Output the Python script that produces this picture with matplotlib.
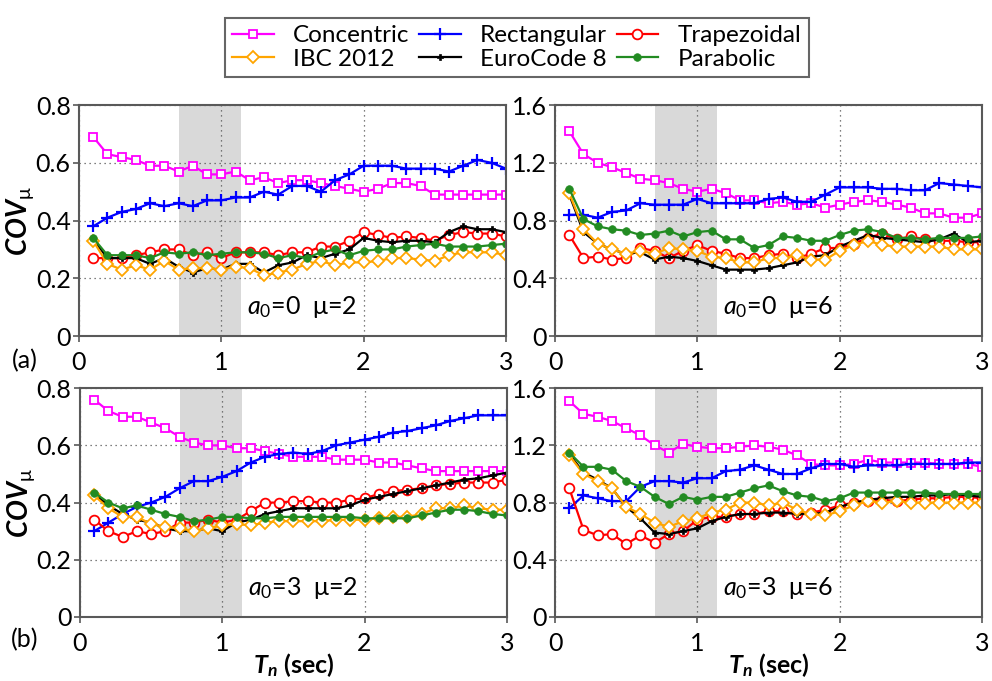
import matplotlib
matplotlib.use("Agg")
import matplotlib.pyplot as plt
import numpy as np

plt.rcParams['font.family'] = ['Lato', 'DejaVu Sans']
plt.rcParams['mathtext.fontset'] = 'custom'
plt.rcParams['mathtext.rm'] = 'Lato'
plt.rcParams['mathtext.it'] = 'Lato:italic'
plt.rcParams['mathtext.bf'] = 'Lato:bold'
plt.rcParams['mathtext.bfit'] = 'Lato:bold:italic'

# periods (sec)
Tn = [round(0.1 * i, 1) for i in range(1, 31)]

# (a) a0=0, mu=2
conc_a = [0.69, 0.63, 0.62, 0.61, 0.59, 0.59, 0.57, 0.59, 0.56, 0.56, 0.57, 0.54, 0.55, 0.53, 0.54,
          0.54, 0.53, 0.52, 0.51, 0.50, 0.51, 0.53, 0.53, 0.52, 0.49, 0.49, 0.49, 0.49, 0.49, 0.49]
rect_a = [0.38, 0.41, 0.43, 0.44, 0.46, 0.45, 0.46, 0.45, 0.47, 0.47, 0.48, 0.48, 0.50, 0.49, 0.52,
          0.52, 0.50, 0.54, 0.56, 0.59, 0.59, 0.59, 0.58, 0.58, 0.58, 0.57, 0.59, 0.61, 0.60, 0.58]
trap_a = [0.27, 0.27, 0.27, 0.28, 0.29, 0.30, 0.30, 0.28, 0.29, 0.27, 0.29, 0.29, 0.29, 0.28, 0.29,
          0.29, 0.31, 0.31, 0.33, 0.36, 0.35, 0.34, 0.345, 0.34, 0.33, 0.35, 0.36, 0.355, 0.355, 0.345]
para_a = [0.34, 0.28, 0.28, 0.28, 0.27, 0.29, 0.285, 0.29, 0.28, 0.285, 0.29, 0.29, 0.285, 0.27, 0.28,
          0.27, 0.29, 0.30, 0.28, 0.295, 0.30, 0.30, 0.31, 0.315, 0.32, 0.31, 0.31, 0.31, 0.315, 0.32]
ibc_a = [0.33, 0.25, 0.23, 0.245, 0.23, 0.26, 0.23, 0.235, 0.235, 0.23, 0.24, 0.235, 0.21, 0.22, 0.23,
         0.25, 0.26, 0.245, 0.255, 0.255, 0.26, 0.27, 0.27, 0.265, 0.26, 0.28, 0.29, 0.29, 0.29, 0.28]
euro_a = [0.335, 0.27, 0.27, 0.27, 0.25, 0.27, 0.24, 0.22, 0.235, 0.23, 0.25, 0.25, 0.22, 0.245, 0.255,
          0.28, 0.27, 0.285, 0.30, 0.34, 0.33, 0.325, 0.33, 0.33, 0.325, 0.36, 0.38, 0.37, 0.37, 0.36]

# a0=0, mu=6
conc_b = [1.42, 1.26, 1.20, 1.17, 1.13, 1.09, 1.08, 1.06, 1.02, 1.00, 1.02, 0.99, 0.94, 0.94, 0.92,
          0.93, 0.91, 0.92, 0.89, 0.91, 0.93, 0.94, 0.93, 0.91, 0.89, 0.85, 0.85, 0.82, 0.82, 0.85]
rect_b = [0.84, 0.84, 0.82, 0.86, 0.87, 0.92, 0.91, 0.91, 0.91, 0.95, 0.92, 0.92, 0.92, 0.92, 0.95,
          0.96, 0.93, 0.93, 0.98, 1.03, 1.03, 1.03, 1.02, 1.02, 1.01, 1.01, 1.06, 1.05, 1.04, 1.03]
trap_b = [0.70, 0.54, 0.55, 0.53, 0.54, 0.61, 0.59, 0.54, 0.59, 0.63, 0.59, 0.57, 0.54, 0.54, 0.56,
          0.57, 0.54, 0.57, 0.61, 0.61, 0.64, 0.68, 0.71, 0.67, 0.69, 0.67, 0.66, 0.66, 0.65, 0.65]
para_b = [1.02, 0.81, 0.76, 0.74, 0.73, 0.70, 0.71, 0.73, 0.69, 0.72, 0.73, 0.67, 0.67, 0.61, 0.63,
          0.69, 0.68, 0.66, 0.66, 0.70, 0.73, 0.74, 0.72, 0.68, 0.68, 0.67, 0.68, 0.68, 0.68, 0.69]
ibc_b = [0.99, 0.74, 0.64, 0.60, 0.57, 0.59, 0.57, 0.61, 0.60, 0.59, 0.55, 0.54, 0.51, 0.51, 0.54,
         0.54, 0.56, 0.53, 0.53, 0.59, 0.63, 0.66, 0.63, 0.62, 0.62, 0.62, 0.62, 0.60, 0.60, 0.60]
euro_b = [0.98, 0.72, 0.64, 0.60, 0.57, 0.58, 0.53, 0.55, 0.54, 0.52, 0.49, 0.46, 0.46, 0.46, 0.47,
          0.49, 0.51, 0.55, 0.56, 0.62, 0.66, 0.70, 0.68, 0.67, 0.66, 0.65, 0.67, 0.71, 0.65, 0.66]

# (b) a0=3, mu=2
conc_c = [0.76, 0.72, 0.70, 0.70, 0.68, 0.66, 0.63, 0.61, 0.60, 0.60, 0.59, 0.59, 0.58, 0.57, 0.56,
          0.56, 0.56, 0.55, 0.55, 0.55, 0.54, 0.54, 0.53, 0.52, 0.51, 0.51, 0.51, 0.51, 0.51, 0.51]
rect_c = [0.30, 0.33, 0.36, 0.385, 0.40, 0.42, 0.45, 0.475, 0.475, 0.49, 0.51, 0.54, 0.56, 0.57, 0.575,
          0.57, 0.58, 0.60, 0.61, 0.62, 0.63, 0.645, 0.65, 0.66, 0.67, 0.685, 0.695, 0.705, 0.705, 0.705]
trap_c = [0.34, 0.30, 0.28, 0.30, 0.29, 0.30, 0.33, 0.33, 0.34, 0.33, 0.34, 0.37, 0.40, 0.40, 0.405,
          0.405, 0.40, 0.40, 0.41, 0.415, 0.43, 0.44, 0.445, 0.45, 0.46, 0.465, 0.47, 0.47, 0.47, 0.48]
para_c = [0.435, 0.40, 0.38, 0.39, 0.375, 0.36, 0.35, 0.335, 0.34, 0.35, 0.35, 0.345, 0.345, 0.35, 0.35,
          0.35, 0.35, 0.35, 0.35, 0.345, 0.345, 0.345, 0.345, 0.355, 0.365, 0.375, 0.375, 0.37, 0.36, 0.355]
ibc_c = [0.425, 0.38, 0.35, 0.35, 0.325, 0.315, 0.31, 0.30, 0.31, 0.32, 0.325, 0.32, 0.33, 0.335, 0.335,
         0.335, 0.335, 0.34, 0.34, 0.34, 0.345, 0.35, 0.35, 0.36, 0.38, 0.38, 0.39, 0.38, 0.375, 0.375]
euro_c = [0.43, 0.39, 0.36, 0.34, 0.33, 0.31, 0.30, 0.30, 0.31, 0.30, 0.33, 0.34, 0.36, 0.37, 0.38,
          0.38, 0.38, 0.38, 0.39, 0.41, 0.42, 0.43, 0.44, 0.45, 0.46, 0.47, 0.48, 0.485, 0.495, 0.505]

# a0=3, mu=6
conc_d = [1.51, 1.42, 1.40, 1.37, 1.32, 1.27, 1.20, 1.15, 1.21, 1.19, 1.18, 1.18, 1.19, 1.20, 1.19,
          1.17, 1.13, 1.07, 1.06, 1.06, 1.07, 1.10, 1.08, 1.08, 1.08, 1.08, 1.07, 1.07, 1.07, 1.05]
rect_d = [0.76, 0.85, 0.83, 0.81, 0.81, 0.91, 0.95, 0.95, 0.94, 0.97, 0.97, 1.02, 1.03, 1.06, 1.03,
          1.00, 1.00, 1.04, 1.07, 1.07, 1.05, 1.06, 1.06, 1.06, 1.07, 1.07, 1.07, 1.07, 1.08, 1.08]
trap_d = [0.90, 0.61, 0.57, 0.58, 0.51, 0.57, 0.52, 0.58, 0.60, 0.68, 0.70, 0.70, 0.72, 0.72, 0.74,
          0.74, 0.72, 0.73, 0.75, 0.78, 0.80, 0.81, 0.82, 0.81, 0.82, 0.83, 0.83, 0.84, 0.84, 0.83]
para_d = [1.15, 1.05, 1.05, 1.03, 0.95, 0.91, 0.84, 0.79, 0.84, 0.82, 0.84, 0.84, 0.87, 0.90, 0.92,
          0.88, 0.85, 0.84, 0.81, 0.83, 0.87, 0.87, 0.87, 0.87, 0.87, 0.87, 0.86, 0.86, 0.86, 0.86]
ibc_d = [1.13, 1.00, 0.95, 0.90, 0.77, 0.72, 0.66, 0.63, 0.67, 0.69, 0.73, 0.75, 0.80, 0.80, 0.78,
         0.80, 0.75, 0.72, 0.71, 0.74, 0.78, 0.81, 0.80, 0.81, 0.80, 0.80, 0.80, 0.80, 0.80, 0.80]
euro_d = [1.14, 1.01, 0.96, 0.90, 0.77, 0.69, 0.59, 0.58, 0.60, 0.62, 0.67, 0.70, 0.72, 0.72, 0.73,
          0.73, 0.72, 0.72, 0.73, 0.77, 0.80, 0.82, 0.83, 0.84, 0.84, 0.85, 0.85, 0.86, 0.85, 0.84]

panels = [
    (conc_a, rect_a, trap_a, euro_a, ibc_a, para_a, '0', '2', [0, 0.2, 0.4, 0.6, 0.8]),
    (conc_b, rect_b, trap_b, euro_b, ibc_b, para_b, '0', '6', [0, 0.4, 0.8, 1.2, 1.6]),
    (conc_c, rect_c, trap_c, euro_c, ibc_c, para_c, '3', '2', [0, 0.2, 0.4, 0.6, 0.8]),
    (conc_d, rect_d, trap_d, euro_d, ibc_d, para_d, '3', '6', [0, 0.4, 0.8, 1.2, 1.6]),
]

styles = {
    'Concentric': dict(color='#ff00ff', marker='s', mfc='white', ms=5.5, mew=1.3),
    'Rectangular': dict(color='#0000ff', marker='+', ms=9, mew=1.6),
    'Trapezoidal': dict(color='#ff0000', marker='o', mfc='white', ms=7, mew=1.3),
    'EuroCode 8': dict(color='black', marker='P', ms=5, mew=0.5),
    'IBC 2012': dict(color='#ffa500', marker='D', mfc='white', ms=6, mew=1.3),
    'Parabolic': dict(color='#228b22', marker='o', ms=5.5, mew=0.5),
}
spine_col = '#595959'

fig = plt.figure(figsize=(9.92, 6.81), dpi=100)
boxes = [(0.0796, 0.5066, 0.4304, 0.339), (0.5595, 0.5066, 0.4304, 0.339),
         (0.0806, 0.094, 0.4304, 0.336), (0.5595, 0.094, 0.4304, 0.336)]

handles = {}
for k, (box, p) in enumerate(zip(boxes, panels)):
    ax = fig.add_axes(box)
    conc, rect, trap, euro, ibc, para, a0, mu, yt = p
    ax.axvspan(0.7, 1.14, color='#d9d9d9', lw=0, zorder=0)
    for name, y in [('Concentric', conc), ('Rectangular', rect), ('Trapezoidal', trap),
                    ('EuroCode 8', euro), ('IBC 2012', ibc), ('Parabolic', para)]:
        h, = ax.plot(Tn, y, lw=1.6, label=name, **styles[name])
        handles[name] = h
    ax.set_xlim(0, 3)
    ax.set_ylim(0, yt[-1])
    ax.set_xticks([0, 1, 2, 3])
    ax.set_xticklabels(['0', '1', '2', '3'])
    ax.set_yticks(yt)
    ax.set_yticklabels(['0'] + ['%.1f' % v for v in yt[1:]])
    ax.tick_params(labelsize=18, length=4, width=1.2, color=spine_col, pad=2)
    ax.tick_params(axis='x', pad=7)
    ax.grid(True, ls=(0, (1, 3)), color='#555555', lw=0.9)
    ax.set_axisbelow(True)
    for s in ax.spines.values():
        s.set_color(spine_col)
        s.set_linewidth(1.5)
    ax.text(0.393, 0.125, r'$a_0$=' + a0 + u'  \u03bc=' + mu, transform=ax.transAxes,
            fontsize=18, va='center', ha='left')
    if k % 2 == 0:
        ax.set_ylabel(r'$\mathbfit{COV}_{\mathrm{\mu}}$', fontsize=20, labelpad=0)
    if k >= 2:
        ax.set_xlabel(r'$\mathbfit{T_n}$ (sec)', fontsize=18, fontweight='bold', labelpad=-3)

fig.text(0.025, 0.471, '(a)', fontsize=18, ha='center', va='center')
fig.text(0.025, 0.06, '(b)', fontsize=18, ha='center', va='center')

order = ['Concentric', 'IBC 2012', 'Rectangular', 'EuroCode 8', 'Trapezoidal', 'Parabolic']
leg = fig.legend([handles[n] for n in order], order, ncol=3, loc='center',
                 bbox_to_anchor=(0.521, 0.930), fontsize=17.5, frameon=True, fancybox=False,
                 handlelength=1.7, columnspacing=0.4, handletextpad=0.8, labelspacing=0.1,
                 borderpad=0.3)
leg.get_frame().set_edgecolor('#404040')
leg.get_frame().set_linewidth(1.5)

fig.savefig('out.png', dpi=100)
